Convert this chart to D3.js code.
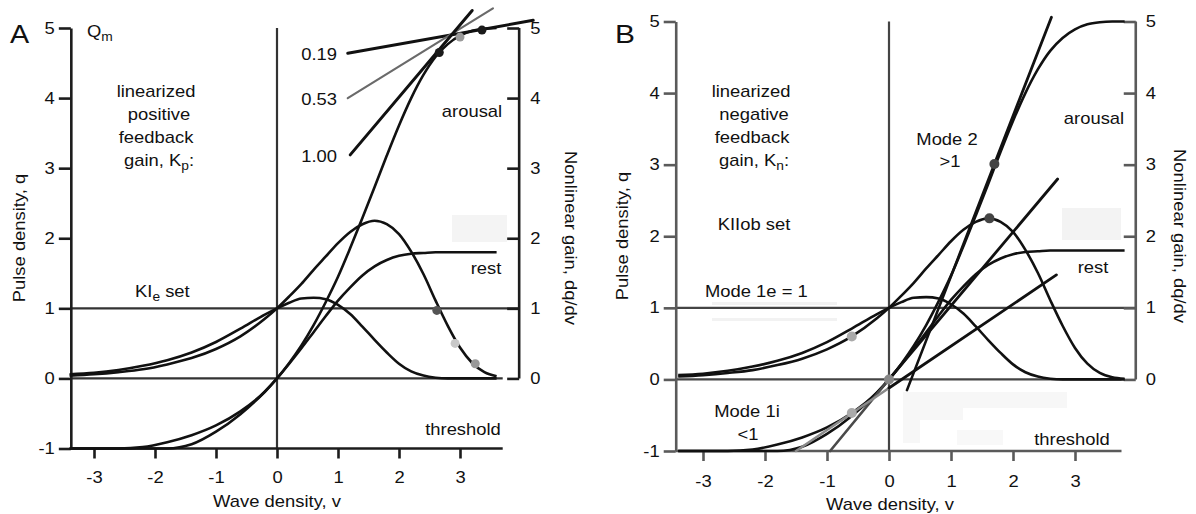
<!DOCTYPE html>
<html><head><meta charset="utf-8">
<script src="https://cdn.jsdelivr.net/npm/d3@7"></script>
<style>
body{margin:0;background:#fff;}
svg{display:block;font-family:"Liberation Sans",Arial,Helvetica,sans-serif;}
</style></head><body>
<svg id="c" width="1196" height="514"></svg>
<script>
// ---------------- DATA ----------------
const vGrid        = [-3.4,-3.0,-2.6,-2.2,-1.8,-1.4,-1.0,-0.6,-0.2,0,0.2,0.4,0.6,0.8,1.0,1.2,1.4,1.6,1.8,2.0,2.2,2.4,2.6,2.8,3.0,3.2,3.4,3.6,3.8];
const arousalPulse = [-1,-1,-1,-0.98,-0.91,-0.81,-0.67,-0.47,-0.19,0,0.22,0.47,0.76,1.09,1.45,1.86,2.29,2.73,3.18,3.61,4.00,4.33,4.59,4.77,4.89,4.96,4.99,5.0,5.0];
const arousalGain  = [0.04,0.06,0.09,0.13,0.20,0.29,0.42,0.60,0.85,1,1.17,1.35,1.55,1.74,1.93,2.09,2.20,2.25,2.20,2.06,1.81,1.49,1.11,0.75,0.44,0.22,0.09,0.03,0.01];
const restPulse    = [-1,-1,-1,-1,-1,-0.94,-0.76,-0.51,-0.19,0,0.21,0.43,0.66,0.89,1.11,1.30,1.47,1.60,1.69,1.75,1.78,1.79,1.80,1.80,1.80,1.80,1.80,1.80,1.80];
const restGain     = [0.06,0.08,0.12,0.18,0.26,0.37,0.52,0.71,0.91,1,1.08,1.14,1.15,1.13,1.05,0.92,0.74,0.55,0.37,0.21,0.10,0.04,0.01,0,0,0,0,0,0];

const vTicks      = [-3,-2,-1,0,1,2,3];
const vTickLabels = ["-3","-2","-1","0","1","2","3"];
const qTicks      = [-1,0,1,2,3,4,5];
const qTickLabels = ["-1","0","1","2","3","4","5"];
const gTicks      = [0,1,2,3,4,5];
const gTickLabels = ["0","1","2","3","4","5"];

// Panel A: linearized positive feedback gains (tangent lines)
const positiveGainLabels = ["0.19","0.53","1.00"];
const positiveGainLines  = [
  [[1.16,4.64],[4.2,5.11]],
  [[1.16,4.00],[3.54,5.28]],
  [[1.20,3.19],[3.2,5.25]]
];
const positiveDots = [[2.66,4.65],[3.0,4.87],[3.36,4.97],[2.62,0.97],[2.92,0.50],[3.25,0.21]];

// Panel B: linearized negative feedback gains
const negativeGainLines = [
  [[0.29,-0.15],[1.70,3.01],[2.62,5.06]],   // Mode 2 (>1)
  [[-0.95,-1],[0,0],[2.72,2.80]],            // Mode 1e (=1)
  [[-1.5,-1],[0,-0.12],[2.70,1.46]]          // Mode 1i (<1)
];
const negativeDots = [[1.70,3.01],[1.62,2.25],[-0.6,0.60],[-0.6,-0.47],[0,0]];

// ---------------- DRAWING ----------------
const svg = d3.select("#c");
const SX = 1.15;
const INK = "#111";

function txt(g, x, y, parts, o = {}) {
  const w = g.append("g").attr("transform", `translate(${x},${y}) rotate(${o.rot || 0}) scale(${SX},1)`);
  const t = w.append("text").attr("font-size", o.size || 16)
    .attr("text-anchor", o.anchor || "start").attr("fill", INK);
  parts.forEach(p => {
    if (typeof p === "string") t.append("tspan").text(p);
    else t.append("tspan").attr("font-size", p.size || 12).attr("dy", p.dy).text(p.t);
  });
  return t;
}

function stretchTicks(axG) {
  axG.attr("font-family", null).attr("font-size", 16);
  axG.selectAll(".tick text").each(function () {
    const s = d3.select(this);
    const xx = +s.attr("x") || 0, yy = +s.attr("y") || 0;
    s.attr("x", 0).attr("y", 0).attr("fill", INK)
     .attr("transform", `translate(${xx},${yy}) scale(${SX},1)`);
  });
}

const series = vGrid.map((v, i) => ({v, ap: arousalPulse[i], ag: arousalGain[i], rp: restPulse[i], rg: restGain[i]}));

function drawPanel(c) {
  const g = svg.append("g");
  const x = d3.scaleLinear().domain([-3, 3]).range(c.xRange);
  const y = d3.scaleLinear().domain([-1, 5]).range(c.yRange);
  const xl = x(c.vLeft), xr = x(c.vRight);

  c.patches.forEach(p => g.append("rect").attr("x", p[0]).attr("y", p[1])
    .attr("width", p[2]).attr("height", p[3]).attr("fill", p[4]));

  // reference lines
  g.append("line").attr("x1", xl).attr("x2", xr).attr("y1", y(1)).attr("y2", y(1))
    .attr("stroke", c.grid).attr("stroke-width", 2.2);
  g.append("line").attr("x1", xl).attr("x2", x(c.vFloor)).attr("y1", y(0)).attr("y2", y(0))
    .attr("stroke", c.grid).attr("stroke-width", 2.4);
  g.append("line").attr("x1", x(0)).attr("x2", x(0)).attr("y1", y(5)).attr("y2", y(-1))
    .attr("stroke", c.grid).attr("stroke-width", 2.2);
  // bottom (threshold) line
  g.append("line").attr("x1", xl).attr("x2", x(c.vFloor)).attr("y1", y(-1)).attr("y2", y(-1))
    .attr("stroke", c.axis).attr("stroke-width", 2.6);

  // axes
  const la = g.append("g").attr("transform", `translate(${xl},0)`)
    .call(d3.axisLeft(y).tickValues(qTicks).tickFormat((d, i) => qTickLabels[i])
      .tickSize(12).tickSizeOuter(0).tickPadding(4));
  la.select(".domain").attr("stroke", c.axis).attr("stroke-width", 2.6);
  la.selectAll(".tick line").attr("stroke", c.axis).attr("stroke-width", 2.6);
  stretchTicks(la);

  const ra = g.append("g").attr("transform", `translate(${xr},0)`)
    .call(d3.axisRight(y).tickValues(gTicks).tickFormat((d, i) => gTickLabels[i])
      .tickSize(-12).tickSizeOuter(0).tickPadding(c.rPad));
  ra.select(".domain").remove();
  ra.selectAll(".tick line").attr("stroke", c.axis).attr("stroke-width", 2.6);
  stretchTicks(ra);
  g.append("line").attr("x1", xr).attr("x2", xr).attr("y1", y(0)).attr("y2", y(5))
    .attr("stroke", c.axis).attr("stroke-width", 2.6);

  const ba = g.append("g").attr("transform", `translate(0,${y(-1)})`)
    .call(d3.axisBottom(x).tickValues(vTicks).tickFormat((d, i) => vTickLabels[i])
      .tickSize(10).tickSizeOuter(0).tickPadding(c.bPad));
  ba.select(".domain").remove();
  ba.selectAll(".tick line").attr("stroke", c.axis).attr("stroke-width", 2.6);
  stretchTicks(ba);

  // curves
  const data = series.filter(d => d.v <= c.vEnd);
  const mk = key => d3.line().x(d => x(d.v)).y(d => y(d[key])).curve(d3.curveMonotoneX);
  ["rp", "ap", "rg", "ag"].forEach(k => {
    g.append("path").datum(data).attr("d", mk(k)).attr("fill", "none")
      .attr("stroke", INK).attr("stroke-width", 2.6).attr("stroke-linejoin", "round");
  });

  return {g, x, y};
}

// ---- Panel A ----
const A = drawPanel({
  xRange: [94, 460], yRange: [448.5, 28], vLeft: -3.38, vRight: 3.97, vFloor: 3.7, vEnd: 3.7,
  axis: "#1c1c1c", grid: "#333", rPad: 11, bPad: 13,
  patches: [[452, 215, 55, 27, "#f4f4f4"]]
});
{
  const {g, x, y} = A;
  const lineGen = d3.line().x(d => x(d[0])).y(d => y(d[1]));
  const lStroke = ["#111", "#6a6a6a", "#111"], lW = [3, 2.2, 3];
  positiveGainLines.forEach((L, i) => g.append("path").attr("d", lineGen(L)).attr("fill", "none")
    .attr("stroke", lStroke[i]).attr("stroke-width", lW[i]).attr("stroke-linecap", "round"));
  const dFill = ["#1a1a1a", "#9a9a9a", "#1a1a1a", "#555", "#c8c8c8", "#999"];
  positiveDots.forEach((d, i) => g.append("circle").attr("cx", x(d[0])).attr("cy", y(d[1]))
    .attr("r", 4.5).attr("fill", dFill[i]));
  // texts
  txt(g, 10, 43, ["A"], {size: 25});
  txt(g, 87, 37, ["Q", {t: "m", dy: 4, size: 12}]);
  txt(g, 156, 97, ["linearized"], {anchor: "middle"});
  txt(g, 159, 120, ["positive"], {anchor: "middle"});
  txt(g, 156, 143, ["feedback"], {anchor: "middle"});
  txt(g, 159, 166, ["gain, K", {t: "p", dy: 4, size: 12}, {t: ":", dy: -4, size: 16}], {anchor: "middle"});
  const gy = [60, 105, 162];
  positiveGainLabels.forEach((s, i) => txt(g, 337, gy[i], [s], {anchor: "end"}));
  txt(g, 472, 117, ["arousal"], {anchor: "middle"});
  txt(g, 486, 274, ["rest"], {anchor: "middle"});
  txt(g, 463, 435, ["threshold"], {anchor: "middle"});
  txt(g, 135, 297, ["KI", {t: "e", dy: 4, size: 12}, {t: " set", dy: -4, size: 16}]);
  txt(g, 277, 507, ["Wave density, v"], {anchor: "middle"});
  txt(g, 25, 238, ["Pulse density, q"], {anchor: "middle", rot: -90});
  txt(g, 565, 238, ["Nonlinear gain, dq/dv"], {anchor: "middle", rot: 90});
}

// ---- Panel B ----
const B = drawPanel({
  xRange: [703, 1075], yRange: [451, 21.5], vLeft: -3.44, vRight: 3.98, vFloor: 3.75, vEnd: 3.85,
  axis: "#5a5a5a", grid: "#444", rPad: 10, bPad: 15,
  patches: [[1062, 208, 59, 32, "#f3f3f3"], [903, 392, 164, 16, "#f7f7f7"], [903, 408, 60, 12, "#f7f7f7"],
            [903, 420, 17, 23, "#f7f7f7"], [957, 430, 46, 15, "#f8f8f8"], [712, 302, 125, 3, "#f2f2f2"], [712, 318, 125, 3, "#f2f2f2"]]
});
{
  const {g, x, y} = B;
  const seg = d3.line().x(d => x(d[0])).y(d => y(d[1]));
  const lowColor = ["#111", "#4a4a4a", "#8a8a8a"];
  negativeGainLines.forEach((L, i) => {
    g.append("path").attr("d", seg([L[0], L[1]])).attr("fill", "none")
      .attr("stroke", lowColor[i]).attr("stroke-width", 2.6).attr("stroke-linecap", "round");
    g.append("path").attr("d", seg([L[1], L[2]])).attr("fill", "none")
      .attr("stroke", INK).attr("stroke-width", 2.8).attr("stroke-linecap", "round");
  });
  const dFill = ["#444", "#444", "#aaa", "#aaa", "#888"];
  negativeDots.forEach((d, i) => g.append("circle").attr("cx", x(d[0])).attr("cy", y(d[1]))
    .attr("r", 5).attr("fill", dFill[i]));
  txt(g, 615, 43, ["B"], {size: 26});
  txt(g, 751, 97, ["linearized"], {anchor: "middle"});
  txt(g, 754, 120, ["negative"], {anchor: "middle"});
  txt(g, 752, 143, ["feedback"], {anchor: "middle"});
  txt(g, 754, 166, ["gain, K", {t: "n", dy: 4, size: 12}, {t: ":", dy: -4, size: 16}], {anchor: "middle"});
  txt(g, 754, 230, ["KIIob set"], {anchor: "middle"});
  txt(g, 947, 145, ["Mode 2"], {anchor: "middle"});
  txt(g, 950, 167, [">1"], {anchor: "middle"});
  txt(g, 1094, 124, ["arousal"], {anchor: "middle"});
  txt(g, 1093, 273, ["rest"], {anchor: "middle"});
  txt(g, 1072, 445, ["threshold"], {anchor: "middle"});
  txt(g, 705, 297, ["Mode 1e = 1"]);
  txt(g, 747, 417, ["Mode 1i"], {anchor: "middle"});
  txt(g, 748, 440, ["<1"], {anchor: "middle"});
  txt(g, 890, 510, ["Wave density, v"], {anchor: "middle"});
  txt(g, 628, 236, ["Pulse density, q"], {anchor: "middle", rot: -90});
  txt(g, 1174, 236, ["Nonlinear gain, dq/dv"], {anchor: "middle", rot: 90});
}
</script>
</body></html>
